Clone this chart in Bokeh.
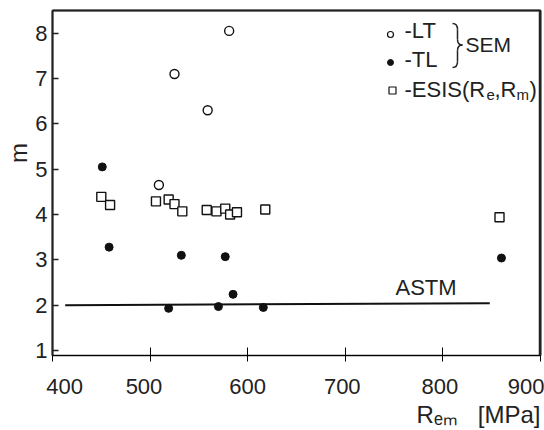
from bokeh.plotting import figure
from bokeh.models import Range1d, FixedTicker, Label, LinearAxis, Title, Span
from bokeh.embed import file_html
from bokeh.resources import INLINE

# ---------------- data ----------------
lt_x = [509, 525, 559, 581]
lt_m = [4.65, 7.1, 6.3, 8.05]

tl_x = [451, 458, 519, 532, 570, 577, 585, 616, 860]
tl_m = [5.05, 3.28, 1.93, 3.10, 1.97, 3.07, 2.24, 1.95, 3.04]

esis_x = [450, 459, 506, 519, 525, 533, 558, 568, 577, 582, 589, 618, 858]
esis_m = [4.39, 4.21, 4.29, 4.33, 4.23, 4.07, 4.10, 4.07, 4.13, 4.00, 4.05, 4.11, 3.94]

astm_x = [413, 848]
astm_m = [2.0, 2.04]

x_ticks = [400, 500, 600, 700, 800, 900]
x_tick_labels = ["400", "500", "600", "700", "800", "900"]
y_ticks = [1, 2, 3, 4, 5, 6, 7, 8]

# ---------------- layout ----------------
W, H = 544, 430
FL, FR, FT, FB = 52, 540, 10, 355
X0, X1 = 400, 900
Y0, Y1 = 0.89, 8.5

FONT = "Liberation Sans"
TXT = "#222222"
INK = "#111111"
NB = "\u00a0"


def fx(px):
    return X0 + (px - FL) * (X1 - X0) / (FR - FL)


def fy(py):
    return Y0 + (FB - py) * (Y1 - Y0) / (FB - FT)


p = figure(width=W, height=H, x_range=Range1d(X0, X1), y_range=Range1d(Y0, Y1),
           output_backend="svg", toolbar_location=None,
           min_border_left=FL, min_border_right=W - FR,
           min_border_top=FT, min_border_bottom=H - FB)
p.grid.visible = False
p.outline_line_color = "#222222"
p.outline_line_width = 1.5
p.background_fill_color = "white"
p.border_fill_color = "white"

# frame lines on top and right (plain axes without ticks or labels)
for side in ("above", "right"):
    a = LinearAxis(ticker=FixedTicker(ticks=[]), major_tick_in=0, major_tick_out=0,
                   minor_tick_in=0, minor_tick_out=0, major_label_standoff=0,
                   major_label_text_font_size="0px", axis_line_color="#222222",
                   axis_line_width=1.8)
    p.add_layout(a, side)
p.add_layout(Span(location=X1, dimension="height", line_color="#222222", line_width=3.5))

for ax in (p.xaxis[0], p.yaxis[0]):
    ax.axis_line_color = "#222222"
    ax.axis_line_width = 2
    ax.major_tick_line_color = "#222222"
    ax.major_tick_line_width = 1.5
    ax.major_tick_out = 0
    ax.minor_tick_line_color = None

xa = p.below[0]
xa.ticker = FixedTicker(ticks=x_ticks)
xa.major_tick_in = 8
xa.major_label_standoff = 12
xa.major_label_text_font = FONT
xa.major_label_text_font_size = "22px"
xa.major_label_text_color = TXT
# pull the left edge label inward, as in the original
pads_before = [4, 0, 0, 0, 0, 0]
pads_after = [0, 2, 0, 1, 1, 0]
xa.major_label_overrides = {t: NB * b + s + NB * a
                            for t, s, b, a in zip(x_ticks, x_tick_labels, pads_before, pads_after)}

xtitle = Title(text="R\u2091\u2098" + NB + NB + NB + "[MPa]", align="right",
               text_font=FONT, text_font_size="24px", text_font_style="normal",
               text_color=TXT, standoff=0, offset=0)
try:
    xtitle.standoff = -5
except Exception:
    pass
p.add_layout(xtitle, "below")

ya = p.left[0]
ya.ticker = FixedTicker(ticks=y_ticks)
ya.major_tick_in = 6
ya.major_label_standoff = 5
ya.major_label_text_font = FONT
ya.major_label_text_font_size = "22px"
ya.major_label_text_color = TXT
ya.axis_label = NB * 9 + "m"
ya.axis_label_text_font = FONT
ya.axis_label_text_font_size = "24px"
ya.axis_label_text_font_style = "normal"
ya.axis_label_text_color = TXT
ya.axis_label_standoff = 0

# ---------------- data marks ----------------
p.line(astm_x, astm_m, line_color=INK, line_width=2)
p.scatter(esis_x, esis_m, marker="square", size=9, fill_color="white",
          line_color=INK, line_width=1.4)
p.scatter(lt_x, lt_m, marker="circle", size=9, fill_color="white",
          line_color=INK, line_width=1.4)
p.scatter(tl_x, tl_m, marker="circle", size=8, fill_color=INK,
          line_color=INK, line_width=1)

SHIFT = 8  # correction for where the label baseline lands


def label(text, px, py, size="22px", align="left"):
    p.add_layout(Label(x=fx(px), y=fy(py - SHIFT), text=text, text_font=FONT,
                       text_font_size=size, text_color=TXT, text_align=align,
                       text_baseline="alphabetic"))


# ASTM label
label("ASTM", 395, 295, size="22px")

# legend
p.scatter([fx(390)], [fy(34)], marker="circle", size=6, fill_color="white",
          line_color=INK, line_width=1.2)
p.scatter([fx(390)], [fy(62)], marker="circle", size=6, fill_color=INK,
          line_color=INK, line_width=1)
p.scatter([fx(392)], [fy(90)], marker="square", size=7, fill_color="white",
          line_color=INK, line_width=1.2)
label("-LT", 404, 38)
label("-TL", 404, 67)
label("SEM", 465, 52, size="21px")
label("-ESIS(R", 404, 97)
label("e", 486, 102, size="15px")
label(",R", 494, 97)
label("m", 516, 102, size="15px")
label(")", 529, 97)

# brace joining LT and TL
bx0, bx1, bx2 = fx(452), fx(457), fx(462)
p.quadratic(x0=[bx0, bx1, bx2, bx1], y0=[fy(23), fy(39), fy(44.5), fy(61)],
            x1=[bx1, bx2, bx1, bx0], y1=[fy(29), fy(44.5), fy(50), fy(67)],
            cx=[bx1, bx1, bx1, bx1], cy=[fy(23), fy(44.5), fy(44.5), fy(67)],
            line_color=TXT, line_width=1.5)
p.segment(x0=[bx1, bx1], y0=[fy(29), fy(50)], x1=[bx1, bx1], y1=[fy(39), fy(61)],
          line_color=TXT, line_width=1.5)

open("out.html", "w").write(file_html(p, INLINE))
